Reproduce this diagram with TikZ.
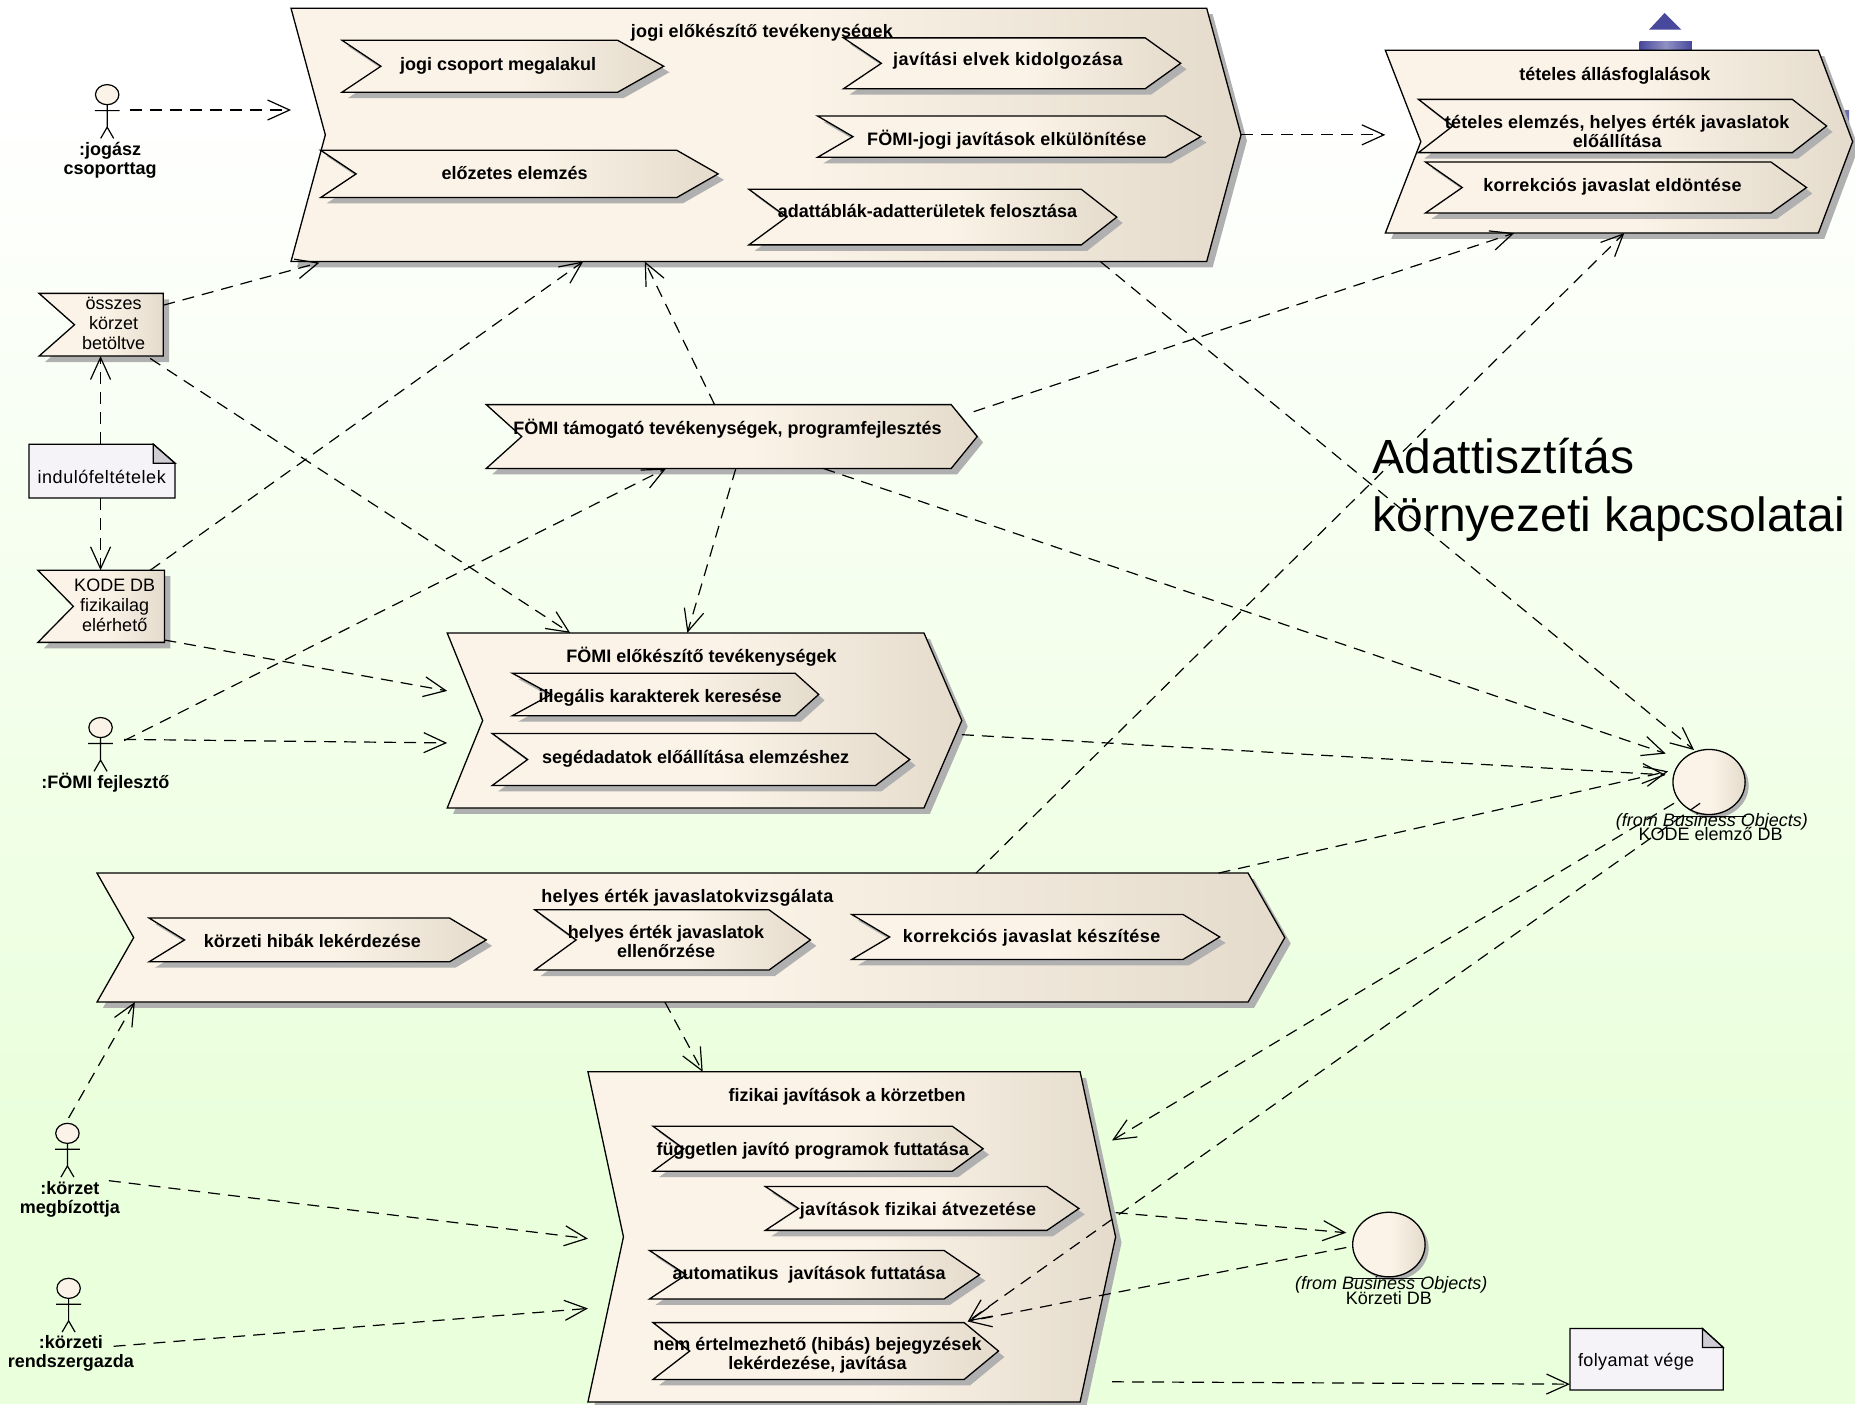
\documentclass[tikz,border=0pt]{standalone}
\usepackage{fontspec}
\setmainfont{Liberation Sans}
\usetikzlibrary{arrows.meta,calc}
\definecolor{bgg}{RGB}{234,255,220}
\definecolor{chl}{RGB}{251,243,231}
\definecolor{chr}{RGB}{228,219,204}
\definecolor{notef}{RGB}{246,243,248}
\definecolor{notec}{RGB}{208,204,212}
\definecolor{shd}{RGB}{176,176,176}
\definecolor{blu}{RGB}{72,72,156}
\pgfdeclarehorizontalshading{chsh}{100bp}{color(0bp)=(chl); color(25bp)=(chl); color(52bp)=(chl); color(75bp)=(chr); color(100bp)=(chr)}
\tikzset{
  x=1.183pt,y=-1.183pt,
  dep/.style={draw=black,line width=1.2pt,dash pattern=on 12pt off 8pt,-{Straight Barb[length=22pt,width=20pt,line width=1.2pt]}},
  btitle/.style={font=\fontsize{18pt}{19pt}\selectfont\bfseries,align=center,inner sep=0pt,text=black,yshift=-2pt},
  plain/.style={font=\fontsize{18pt}{20pt}\selectfont,align=center,inner sep=0pt,text=black},
  wide/.style={execute at begin node={\addfontfeature{LetterSpace=#1}}},
  outl/.style={draw=black,line width=1.3pt},
  actorl/.style={draw=black,line width=1.2pt},
}
% name x1 y1 x2 y2 notchL notchR
\newcommand{\chev}[7]{%
 \def\xa{#2}\def\ya{#3}\def\xb{#4}\def\yb{#5}%
 \pgfmathsetmacro\ym{(\ya+\yb)/2}%
 \pgfmathsetmacro\xn{\xa+#6}\pgfmathsetmacro\xc{\xb-#7}%
 \fill[shd] (\xa+5,\ya+5) -- (\xc+5,\ya+5) -- (\xb+5,\ym+5) -- (\xc+5,\yb+5) -- (\xa+5,\yb+5) -- (\xn+5,\ym+5) -- cycle;
 \path[shading=chsh,outl] (\xa,\ya) -- (\xc,\ya) -- (\xb,\ym) -- (\xc,\yb) -- (\xa,\yb) -- (\xn,\ym) -- cycle;
 \coordinate (#1) at (\xa/2+\xb/2,\ym);
}
\newcommand{\mile}[6]{% name x1 y1 x2 y2 notch
 \def\xa{#2}\def\ya{#3}\def\xb{#4}\def\yb{#5}%
 \pgfmathsetmacro\ym{(\ya+\yb)/2}\pgfmathsetmacro\xn{\xa+#6}%
 \fill[shd] (\xa+5,\ya+5) -- (\xb+5,\ya+5) -- (\xb+5,\yb+5) -- (\xa+5,\yb+5) -- (\xn+5,\ym+5) -- cycle;
 \path[shading=chsh,outl] (\xa,\ya) -- (\xb,\ya) -- (\xb,\yb) -- (\xa,\yb) -- (\xn,\ym) -- cycle;
}
\newcommand{\notebox}[6]{% x1 y1 x2 y2 foldx foldy
 \path[fill=notef,outl] (#1,#2) -- (#5,#2) -- (#3,#6) -- (#3,#4) -- (#1,#4) -- cycle;
 \path[fill=notec,outl] (#5,#2) -- (#5,#6) -- (#3,#6) -- cycle;
}
\newcommand{\actor}[2]{% head centre x y
 \path[fill=chl,actorl] (#1,#2) ellipse (9.9 and 8.5);
 \draw[actorl] (#1,#2+8.5) -- (#1,#2+27.5) (#1-10.5,#2+13.5) -- (#1+10.5,#2+13.5) (#1-5.5,#2+37) -- (#1,#2+27.5) -- (#1+5.5,#2+37);
}
\newcommand{\dbcirc}[4]{% x y rx ry
 \fill[shd] (#1+3,#2+3) ellipse (#3 and #4);
 \path[shading=chsh,outl] (#1,#2) ellipse (#3 and #4);
}
\begin{document}
\begin{tikzpicture}
\useasboundingbox (0,0) rectangle (1568,1187);
\fill[top color=white,bottom color=bgg] (0,80) rectangle (1568,950);
\fill[white] (0,0) rectangle (1568,80);
\fill[bgg] (0,950) rectangle (1568,1187);

% blue fragments behind the tételes group
\fill[blu] (1407,11) -- (1421,25) -- (1394,25) -- cycle;
\path[left color=blu,right color=blu,middle color=blu!60] (1386,35) rectangle (1430,43);
\fill[blu!80] (1559,93) -- (1563,93) -- (1563,106) -- cycle;

% groups
\chev{jogiG}{246}{7}{1049}{221}{29}{29}
\node[btitle,wide=1] (jogiT) at (644,26) {jogi előkészítő tevékenységek};
\chev{a1}{289}{34}{561}{78}{33}{39}
\node[btitle] (jogiA) at (421,54) {jogi csoport megalakul};
\chev{a2}{713}{32}{998}{75}{32}{30}
\node[btitle,wide=2.5] (jogiB) at (852,50) {javítási elvek kidolgozása};
\chev{a3}{691}{98}{1015}{133}{30}{30}
\node[btitle,wide=1] (jogiC) at (851,116) {FÖMI-jogi javítások elkülönítése};
\chev{a4}{271}{127}{607}{167}{30}{35}
\node[btitle] (jogiD) at (435,144.5) {előzetes elemzés};
\chev{a5}{633}{160}{944}{207}{32}{30}
\node[btitle] (jogiE) at (784,176.5) {adattáblák-adatterületek felosztása};

\chev{telG}{1171}{42.5}{1566}{197}{30}{29}
\node[btitle] (telT) at (1365,62) {tételes állásfoglalások};
\chev{b1}{1199}{84}{1544}{129}{29}{29}
\node[btitle,wide=1] (telA) at (1367,109.5) {tételes elemzés, helyes érték javaslatok\\előállítása};
\chev{b2}{1205}{137}{1527}{180}{31}{30}
\node[btitle,wide=1.5] (telB) at (1363,156) {korrekciós javaslat eldöntése};

\chev{tamG}{411}{342}{826}{396}{30}{22}
\node[btitle] (tamT) at (615,361) {FÖMI támogató tevékenységek, programfejlesztés};

\chev{elG}{378}{535}{813}{683}{30}{32}
\node[btitle] (elT) at (593,553.5) {FÖMI előkészítő tevékenységek};
\chev{c1}{433}{569}{692}{605}{33}{20}
\node[btitle] (elA) at (558,588) {illegális karakterek keresése};
\chev{c2}{416}{620}{769}{664}{30}{29}
\node[btitle] (elB) at (588,640) {segédadatok előállítása elemzéshez};

\chev{heG}{82}{738}{1086}{847}{31}{31}
\node[btitle,wide=1.8] (heT) at (581,757) {helyes érték javaslatokvizsgálata};
\chev{d1}{126}{776}{411}{813}{30}{31}
\node[btitle] (heA) at (264,793.5) {körzeti hibák lekérdezése};
\chev{d2}{452}{769}{685}{820}{35}{35}
\node[btitle] (heB) at (563,794.5) {helyes érték javaslatok\\ellenőrzése};
\chev{d3}{720}{773}{1031}{811}{32}{31}
\node[btitle,wide=2.2] (heC) at (872,791) {korrekciós javaslat készítése};

\chev{fiG}{497}{906}{943}{1185}{30}{30}
\node[btitle] (fiT) at (716,925) {fizikai javítások a körzetben};
\chev{e1}{552}{952}{831}{990}{26}{26}
\node[btitle] (fiA) at (687,971) {független javító programok futtatása};
\chev{e2}{647}{1003}{912}{1040}{28}{27}
\node[btitle,wide=1.8] (fiB) at (776,1022) {javítások fizikai átvezetése};
\chev{e3}{549}{1057}{828}{1098}{31}{30}
\node[btitle] (fiC) at (684,1076) {automatikus\ \ javítások futtatása};
\chev{e4}{552}{1118}{844}{1166}{31}{29}
\node[btitle] (fiD) at (691,1144) {nem értelmezhető (hibás) bejegyzések\\lekérdezése, javítása};

% milestones
\mile{m1}{33}{248}{138}{301}{30}
\node[plain] (m1T) at (96,273) {összes\\körzet\\betöltve};
\mile{m2}{32}{482}{139}{543}{30}
\node[plain] (m2T) at (97,512) {KODE DB\\fizikailag\\elérhető};

% notes
\notebox{24.5}{375.5}{148}{421}{129.6}{391.6}
\node[plain,wide=3] (n1) at (86,403) {indulófeltételek};
\notebox{1327}{1123}{1456.6}{1175}{1439}{1139}
\node[plain,wide=2] (n2) at (1383,1151) {folyamat vége};

% data stores
\dbcirc{1444.6}{661}{30.5}{27.5}
\draw[line width=1.2pt] (1414,690) -- (1476,690);
\node[plain,font=\fontsize{18pt}{18pt}\selectfont\itshape] (db1a) at (1447,695) {(from Business Objects)};
\node[plain] (db1) at (1446,705) {KODE elemző DB};
\dbcirc{1174}{1052}{30.6}{27.3}
\draw[line width=1.2pt] (1144,1081) -- (1203,1081);
\node[plain,font=\fontsize{18pt}{18pt}\selectfont\itshape] (db2a) at (1176,1086) {(from Business Objects)};
\node[plain] (db2) at (1174,1097) {Körzeti DB};

% actors
\actor{90.6}{80}
\node[btitle] (ac1) at (93,134) {:jogász\\csoporttag};
\actor{85}{615}
\node[btitle] (ac2) at (89,660) {:FÖMI fejlesztő};
\actor{57}{958}
\node[btitle] (ac3) at (59,1012.5) {:körzet\\megbízottja};
\actor{58}{1089}
\node[btitle] (ac4) at (60,1142.5) {:körzeti\\rendszergazda};

% big text
\node[font=\fontsize{48pt}{58pt}\selectfont,align=left,anchor=north west,inner sep=0pt,text=black] (big) at (1160,370) {Adattisztítás\\környezeti kapcsolatai};

% connector end points
\foreach \n/\x/\y in {
 p1/110/93,q1/246/93, p2/1049/114,q2/1171/114, p3/138/258,q3/270/222, p4/127/303,q4/482/535,
 p5/127/482,q5/493/221, p6/139/541,q6/378/584, p7/105/626,q7/563/396, p8/105/625,q8/378/628,
 p9/604/342,q9/545/221, pa/622/396,qa/581/535, pb/823/348,qb/1280/197, pc/696/396,qc/1408/637,
 pd/930/221,qd/1432/634, pe/813/621,qe/1408/655, pf/1030/738,qf/1410/652, pg/825/738,qg/1373/197,
 ph/562/847,qh/594/906, pi/58/945,qi/114/847, pj/92/998,qj/497/1047, pk/96/1138,qk/497/1106,
 pl/1415/679,ql/940/964, pm/1437/679,qm/818/1117, pn/943/1025,qn/1138/1042, po/1138/1054.5,qo/818/1117,
 pq/940/1168,qq/1327/1170, pr/85/375,qr/85/301, ps/85/421,qs/85/482}
 {\coordinate (\n) at (\x,\y);}
\foreach \a/\b in {p1/q1,p2/q2,p3/q3,p4/q4,p5/q5,p6/q6,p7/q7,p8/q8,p9/q9,pa/qa,pb/qb,pc/qc,pd/qd,pe/qe,pf/qf,pg/qg,ph/qh,pi/qi,pj/qj,pk/qk,pl/ql,pm/qm,pn/qn,po/qo,pq/qq,pr/qr,ps/qs}
 {\draw[dep] (\a) -- (\b);}
\end{tikzpicture}
\end{document}
